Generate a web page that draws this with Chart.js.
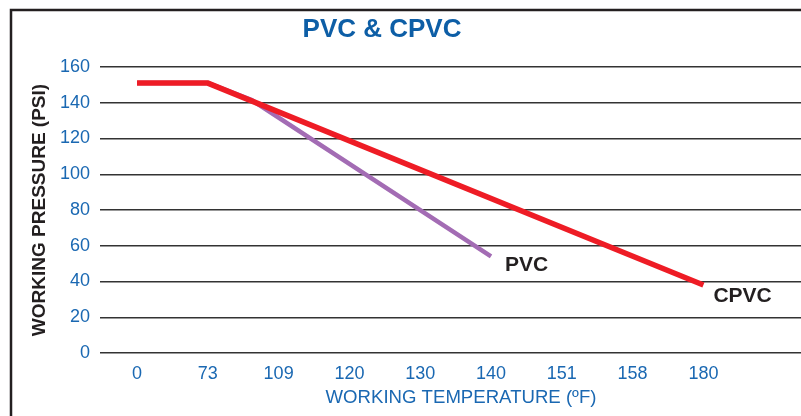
<!DOCTYPE html>
<html>
<head>
<meta charset="utf-8">
<script src="https://cdn.jsdelivr.net/npm/chart.js@4"></script>
<style>
  html, body { margin: 0; padding: 0; background: #fff; overflow: hidden; }
  #wrap { width: 801px; height: 416px; overflow: hidden; position: relative; }
  canvas { display: block; }
</style>
</head>
<body>
<div id="wrap"><canvas id="c" width="822" height="416"></canvas></div>
<script>
// Category tick labels (evenly spaced on the axis)
const temperatures = ['0', '73', '109', '120', '130', '140', '151', '158', '180'];
// Series: x given as position along the temperature categories (index), y in PSI
const cpvcPos = [0, 1, 8];
const cpvcPsi = [151, 151, 38];
const pvcPos = [0, 1, 1.62, 5];
const pvcPsi = [151, 151, 141.5, 54];
const yTicks = [0, 20, 40, 60, 80, 100, 120, 140, 160];

const FONT = '"Liberation Sans", Arial, Helvetica, sans-serif';
const BLUE = '#1a68b2';

const toPts = (xs, ys) => xs.map((x, i) => ({ x: x, y: ys[i] }));

const decor = {
  id: 'decor',
  beforeDraw(chart) {
    const ctx = chart.ctx;
    ctx.save();
    ctx.strokeStyle = '#231f20';
    ctx.lineWidth = 2.5;
    ctx.strokeRect(11, 10, 900, 500);
    ctx.fillStyle = '#0d5ea6';
    ctx.font = 'bold 26px ' + FONT;
    ctx.textAlign = 'center';
    ctx.textBaseline = 'alphabetic';
    ctx.fillText('PVC & CPVC', 382, 37);
    ctx.restore();
  },
  afterDatasetsDraw(chart) {
    const ctx = chart.ctx;
    const xs = chart.scales.x, ys = chart.scales.y;
    ctx.save();
    ctx.fillStyle = '#231f20';
    ctx.font = 'bold 21px ' + FONT;
    ctx.textAlign = 'left';
    ctx.textBaseline = 'middle';
    const pLast = pvcPos.length - 1;
    ctx.fillText('PVC', xs.getPixelForValue(pvcPos[pLast]) + 14, ys.getPixelForValue(pvcPsi[pLast]) + 9);
    const cLast = cpvcPos.length - 1;
    ctx.fillText('CPVC', xs.getPixelForValue(cpvcPos[cLast]) + 10, ys.getPixelForValue(cpvcPsi[cLast]) + 11);
    ctx.restore();
  }
};

new Chart(document.getElementById('c'), {
  type: 'line',
  data: {
    datasets: [
      {
        label: 'CPVC',
        data: toPts(cpvcPos, cpvcPsi),
        borderColor: '#ee1c25',
        borderWidth: 5.5,
        borderCapStyle: 'butt',
        pointRadius: 0,
        tension: 0,
        fill: false
      },
      {
        label: 'PVC',
        data: toPts(pvcPos, pvcPsi),
        borderColor: '#a36cb4',
        borderWidth: 4.5,
        borderCapStyle: 'butt',
        pointRadius: 0,
        tension: 0,
        fill: false
      }
    ]
  },
  options: {
    responsive: false,
    animation: false,
    devicePixelRatio: 1,
    layout: { padding: { left: 11, top: 67, right: 0, bottom: 7 } },
    plugins: {
      legend: { display: false },
      tooltip: { enabled: false },
      title: { display: false }
    },
    scales: {
      x: {
        type: 'linear',
        min: -0.523,
        max: 9.675,
        grid: { display: false, drawTicks: false },
        border: { display: false },
        afterBuildTicks: (s) => { s.ticks = temperatures.map((_, i) => ({ value: i })); },
        afterFit: (s) => { s.height = 56; },
        ticks: {
          autoSkip: false,
          maxRotation: 0,
          padding: 10,
          color: BLUE,
          font: { family: FONT, size: 18 },
          callback: (v) => temperatures[v] !== undefined ? temperatures[v] : ''
        },
        title: {
          display: true,
          text: 'WORKING TEMPERATURE (ºF)',
          color: BLUE,
          font: { family: FONT, size: 18.6 },
          padding: { top: 0, bottom: 0 }
        }
      },
      y: {
        min: 0,
        max: 160,
        afterBuildTicks: (s) => { s.ticks = yTicks.map(v => ({ value: v })); },
        afterFit: (s) => { s.width = 89; },
        grid: { color: '#333333', lineWidth: 1.5, drawTicks: false },
        border: { display: false },
        ticks: {
          padding: 10,
          color: BLUE,
          font: { family: FONT, size: 18 }
        },
        title: {
          display: true,
          text: 'WORKING PRESSURE (PSI)',
          color: '#231f20',
          font: { family: FONT, size: 19, weight: 'bold' },
          padding: { top: 17, bottom: 0 }
        }
      }
    }
  },
  plugins: [decor]
});
</script>
</body>
</html>
